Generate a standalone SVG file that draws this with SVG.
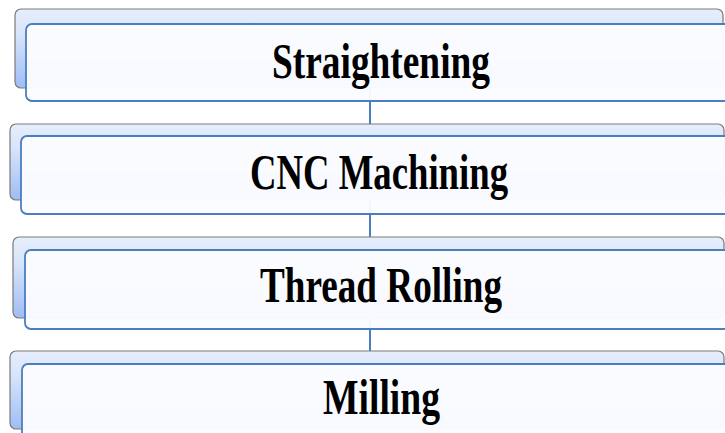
<svg xmlns="http://www.w3.org/2000/svg" width="725" height="433" viewBox="0 0 725 433">
<defs>
<linearGradient id="tab" x1="0" y1="0" x2="0" y2="1">
<stop offset="0" stop-color="#e6eefc"/>
<stop offset="0.3" stop-color="#d9e5fb"/>
<stop offset="1" stop-color="#9ebdf4"/>
</linearGradient>
<style>
.back{fill:url(#tab);stroke:#7a7a7a;stroke-width:1.2}
.front{fill:#fbfcff;fill-opacity:0.96;stroke:#4a7ebf;stroke-width:1.8}
.conn{stroke:#4a7ebf;stroke-width:2;fill:none}
.lbl{font-family:"Liberation Serif","Times New Roman",serif;font-weight:bold;font-size:50px;fill:#000;text-anchor:middle}
</style>
</defs>
<rect width="725" height="433" fill="#ffffff"/>
<g id="connectors">
<line class="conn" x1="370" y1="88" x2="370" y2="124"/>
<line class="conn" x1="370" y1="200" x2="370" y2="237"/>
<line class="conn" x1="370" y1="318" x2="370" y2="351"/>
</g>
<g id="node-straightening">
<rect class="back" x="15" y="9" width="708" height="79" rx="6"/>
<rect class="front" x="26" y="24" width="720" height="77" rx="6"/>
<text class="lbl" x="381" y="78" textLength="218" lengthAdjust="spacingAndGlyphs">Straightening</text>
</g>
<g id="node-cnc">
<rect class="back" x="10" y="124" width="714" height="76" rx="6"/>
<rect class="front" x="21" y="136" width="725" height="78" rx="6"/>
<text class="lbl" x="379" y="189" textLength="258" lengthAdjust="spacingAndGlyphs">CNC Machining</text>
</g>
<g id="node-thread">
<rect class="back" x="13" y="237" width="711" height="81" rx="6"/>
<rect class="front" x="25" y="250" width="720" height="79" rx="6"/>
<text class="lbl" x="381" y="302" textLength="242" lengthAdjust="spacingAndGlyphs">Thread Rolling</text>
</g>
<g id="node-milling">
<rect class="back" x="10" y="351" width="714" height="78" rx="6"/>
<rect class="front" x="22" y="364" width="725" height="80" rx="6"/>
<text class="lbl" x="381.5" y="414" textLength="117" lengthAdjust="spacingAndGlyphs">Milling</text>
</g>
</svg>
